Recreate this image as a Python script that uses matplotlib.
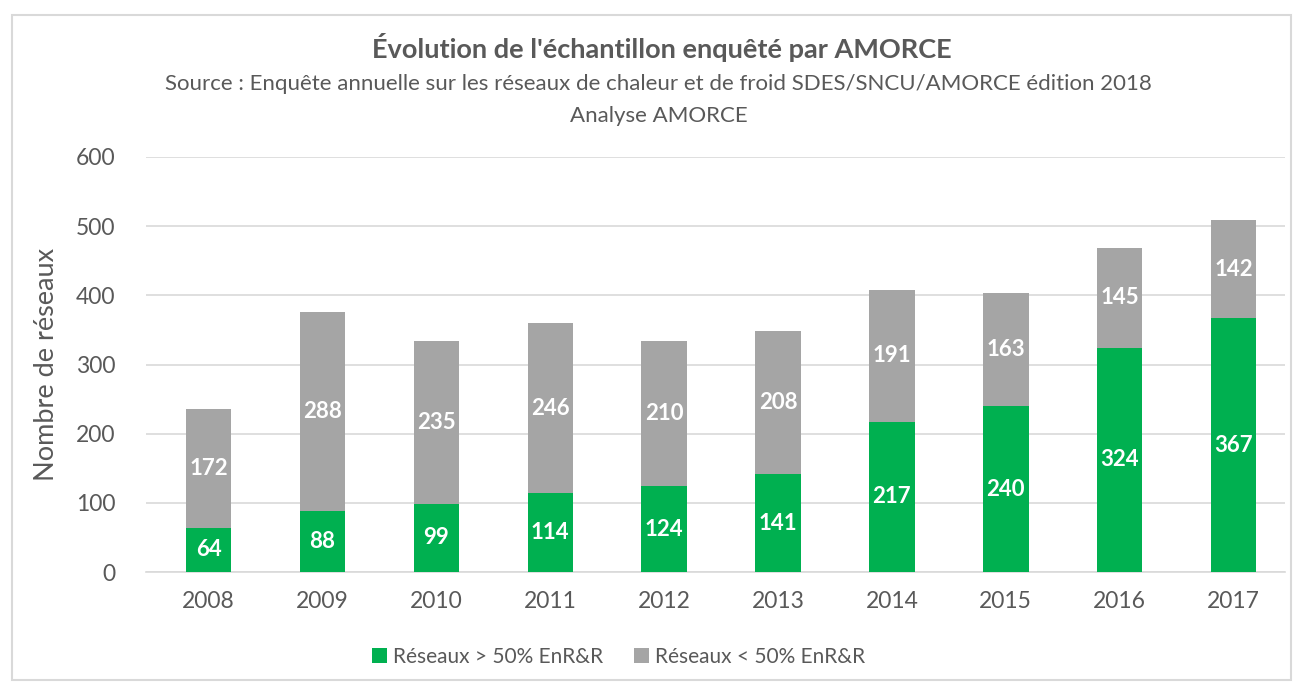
import matplotlib.pyplot as plt
from matplotlib.patches import Rectangle

plt.rcParams['font.family'] = ['Lato', 'DejaVu Sans']

years = ["2008", "2009", "2010", "2011", "2012", "2013", "2014", "2015", "2016", "2017"]
sup_50 = [64, 88, 99, 114, 124, 141, 217, 240, 324, 367]
inf_50 = [172, 288, 235, 246, 210, 208, 191, 163, 145, 142]

green = "#00B050"
grey = "#A5A5A5"
txt = "#595959"

fig = plt.figure(figsize=(12.97, 6.84), dpi=100)
ax = fig.add_axes([0.1126, 0.1637, 0.878, 0.6068])

x = range(len(years))
b1 = ax.bar(x, sup_50, width=0.4, color=green, label="Réseaux > 50% EnR&R", zorder=3)
b2 = ax.bar(x, inf_50, width=0.4, bottom=sup_50, color=grey, label="Réseaux < 50% EnR&R", zorder=3)

for bars in (b1, b2):
    for bar in bars:
        h = bar.get_height()
        ax.text(bar.get_x() + bar.get_width() / 2, bar.get_y() + h / 2, str(int(h)),
                ha="center", va="center", color="white", fontsize=16, fontweight="bold", zorder=4)

ax.set_xlim(-0.55, 9.45)
ax.set_ylim(0, 600)
ax.set_yticks(range(0, 700, 100))
ax.set_xticks(list(x))
ax.set_xticklabels(years)
ax.grid(axis="y", color="#D9D9D9", linewidth=1.2, zorder=0)
for s in ["top", "right", "left"]:
    ax.spines[s].set_visible(False)
ax.spines["bottom"].set_color("#D9D9D9")
ax.spines["bottom"].set_linewidth(1.2)
ax.tick_params(length=0, labelsize=16.5, colors=txt, pad=14)
ax.tick_params(axis="y", pad=22)
ax.set_ylabel("Nombre de réseaux", fontsize=19.5, color=txt, labelpad=12)

fig.text(0.51, 0.931, "Évolution de l'échantillon enquêté par AMORCE", ha="center", va="center",
         fontsize=19.5, fontweight="bold", color=txt)
fig.text(0.508, 0.877, "Source : Enquête annuelle sur les réseaux de chaleur et de froid SDES/SNCU/AMORCE édition 2018",
         ha="center", va="center", fontsize=16, color=txt)
fig.text(0.508, 0.830, "Analyse AMORCE", ha="center", va="center", fontsize=16, color=txt)

leg = fig.legend(loc="center", bbox_to_anchor=(0.477, 0.04), ncol=2, frameon=False, fontsize=15,
                 handlelength=0.7, handleheight=0.7, handletextpad=0.3, columnspacing=1.5)
for t in leg.get_texts():
    t.set_color(txt)

fig.patches.append(Rectangle((0.009, 0.006), 0.986, 0.972, transform=fig.transFigure,
                             fill=False, edgecolor="#D9D9D9", linewidth=1.5))

fig.savefig("out.png", dpi=100)
